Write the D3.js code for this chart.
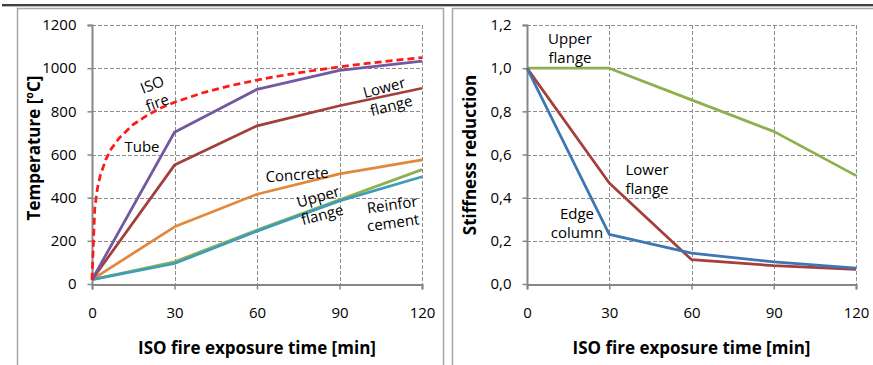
<!DOCTYPE html>
<html><head><meta charset="utf-8">
<script src="https://cdn.jsdelivr.net/npm/d3@7"></script>
<style>body{margin:0;background:#fff}svg{display:block;font-family:"Open Sans",sans-serif}</style>
</head><body><svg id="c" width="873" height="365"></svg>
<script>
// ---- Data: left chart (temperature) ----
const isoTimes = [0,1,2,3,5,7,10,15,20,25,30,40,50,60,70,80,90,100,110,120];
const isoTemps = [20,350,445,502,576,626,678,739,781,815,842,885,918,945,968,988,1006,1022,1036,1049];
const times = [0,30,60,90,120];
const tubeTemps = [20,703,902,990,1033];
const lowerFlangeTemps = [20,551,733,826,907];
const concreteTemps = [20,265,416,510,575];
const upperFlangeTemps = [20,103,250,390,530];
const reinforcementTemps = [20,95,245,385,497];
const tempTicks = [0,200,400,600,800,1000,1200];
const timeTicks = [0,30,60,90,120];
// ---- Data: right chart (stiffness) ----
const upperFlangeStiff = [1.0,1.0,0.853,0.707,0.502];
const lowerFlangeStiff = [1.0,0.468,0.113,0.085,0.068];
const edgeColumnStiff = [1.0,0.230,0.143,0.102,0.073];
const stiffTicks = [0,0.2,0.4,0.6,0.8,1.0,1.2];

const svg = d3.select("#c");
// frame lines
svg.append("line").attr("x1",2).attr("x2",873).attr("y1",5).attr("y2",5).attr("stroke","#000").attr("stroke-width",1.5);
svg.append("line").attr("x1",2).attr("x2",873).attr("y1",6.5).attr("y2",6.5).attr("stroke","#bbb").attr("stroke-width",1);
function panel(x0,x1){
  const p = svg.append("path").attr("fill","none").attr("stroke","#a6a6a6").attr("stroke-width",1.5);
  let d = `M${x0},365V8.5H${x1}`;
  if (x1 < 873) d += "V365";
  p.attr("d", d);
}
panel(17.5,443.5);
panel(452.5,880);

function chart(opts){
  const x = d3.scaleLinear().domain([0,120]).range([opts.left, opts.right]);
  const y = d3.scaleLinear().domain([0, opts.ymax]).range([284,25]);
  const g = svg.append("g");
  // grid
  g.selectAll(".hg").data(opts.yTicks.filter(d=>d>0)).join("line")
    .attr("x1",opts.left).attr("x2",opts.right).attr("y1",d=>Math.round(y(d))+0.5).attr("y2",d=>Math.round(y(d))+0.5)
    .attr("stroke","#8c8c8c").attr("stroke-dasharray","4,2").attr("stroke-width",1);
  g.selectAll(".vg").data(timeTicks.filter(d=>d>0)).join("line")
    .attr("x1",d=>Math.round(x(d))+0.5).attr("x2",d=>Math.round(x(d))+0.5).attr("y1",25).attr("y2",284)
    .attr("stroke","#8c8c8c").attr("stroke-dasharray","4,2").attr("stroke-width",1);
  // axes
  const xa = g.append("g").attr("transform","translate(0,284.5)")
    .call(d3.axisBottom(x).tickValues(timeTicks).tickSize(5).tickPadding(18).tickFormat(d3.format("d")));
  const ya = g.append("g").attr("transform",`translate(${opts.left+0.5},0)`)
    .call(d3.axisLeft(y).tickValues(opts.yTicks).tickSize(5).tickPadding(11).tickFormat(opts.fmt));
  [xa,ya].forEach(a=>{
    a.select(".domain").attr("stroke","#868686").attr("stroke-width",2);
    a.selectAll(".tick line").attr("stroke","#868686").attr("stroke-width",1.5);
    a.selectAll("text").attr("font-family","Open Sans").attr("font-size",15).attr("fill","#000");
  });
  ya.select(".domain").attr("d",`M-5,25.5H0V284`);
  // titles
  g.append("text").attr("x",(opts.left+opts.right)/2).attr("y",354).attr("text-anchor","middle")
    .attr("font-weight","bold").attr("font-size",17).text("ISO fire exposure time [min]");
  g.append("text").attr("transform",`translate(${opts.ytx},${opts.yty}) rotate(-90)`).attr("text-anchor","middle")
    .attr("font-weight","bold").attr("font-size",17).text(opts.ytitle);
  return {x,y,g};
}

function fmtComma(d){ return d3.format(".1f")(d).replace(".",","); }

const L = chart({left:92,right:422,ymax:1200,yTicks:tempTicks,fmt:d3.format("d"),ytitle:"Temperature [ºC]",ytx:40,yty:148});
const R = chart({left:527,right:856,ymax:1.2,yTicks:stiffTicks,fmt:fmtComma,ytitle:"Stiffness reduction",ytx:476,yty:155});

function drawLine(c, xs, ys, color, dash){
  const line = d3.line().x((d,i)=>c.x(xs[i])).y(d=>c.y(d));
  c.g.append("path").datum(ys).attr("d",line).attr("fill","none").attr("stroke",color)
    .attr("stroke-width",2.75).attr("stroke-linejoin","round").attr("stroke-dasharray",dash||null);
}
drawLine(L, times, concreteTemps, "#E3883A");
drawLine(L, times, upperFlangeTemps, "#8FB04F");
drawLine(L, times, reinforcementTemps, "#3E9DB8");
drawLine(L, times, lowerFlangeTemps, "#A23F3C");
drawLine(L, times, tubeTemps, "#7358A0");
drawLine(L, isoTimes, isoTemps, "#FF1A1A", "7,4");

drawLine(R, times, upperFlangeStiff, "#8DB04F");
drawLine(R, times, lowerFlangeStiff, "#A63F3C");
drawLine(R, times, edgeColumnStiff, "#3C76B3");

function label(t, x, y, rot){
  svg.append("text").attr("transform",`translate(${x},${y}) rotate(${rot||0})`).attr("text-anchor","middle")
    .attr("dominant-baseline","central").attr("font-size",15).text(t);
}
label("ISO",152,84,-22); label("fire",157,102,-20);
label("Tube",142,146,0);
label("Lower",384,87,-15); label("flange",391,105,-15);
label("Concrete",297,174,-4);
label("Upper",318,196,-16); label("flange",322,214,-15);
label("Reinfor",392,204,-8); label("cement",393,222,-8);
label("Upper",570,38,0); label("flange",570,57,0);
label("Lower",647,169,0); label("flange",647,188,0);
label("Edge",577,213,0); label("column",577,232,0);
</script></body></html>
